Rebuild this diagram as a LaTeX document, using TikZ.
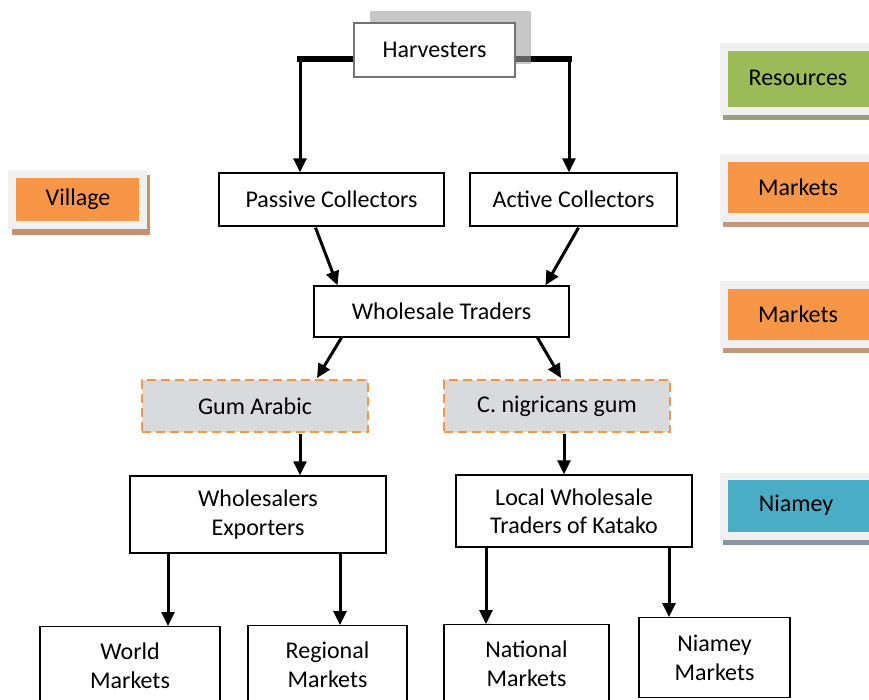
\documentclass[tikz,border=0pt]{standalone}
\usepackage{fontspec}
\setmainfont{Carlito}
\usetikzlibrary{arrows.meta,calc}
\definecolor{resgreen}{HTML}{9BBB59}
\definecolor{mkorange}{HTML}{F79646}
\definecolor{nmblue}{HTML}{4BACC6}
\definecolor{backing}{HTML}{F0F0F0}
\definecolor{resbar}{HTML}{9A9F7D}
\definecolor{mkbar}{HTML}{C4977A}
\definecolor{nmbar}{HTML}{8896A0}
\definecolor{vilshadow}{HTML}{C8906E}
\definecolor{gumfill}{HTML}{D9DADB}
\begin{document}
\begin{tikzpicture}[x=1pt,y=-1pt,
  every node/.style={font=\fontsize{24}{28.5}\selectfont, inner sep=0pt, align=center},
  box/.style={draw=black, line width=1.4pt, fill=white},
  gumbox/.style={draw=mkorange, line width=2pt, dash pattern=on 9pt off 5pt, fill=gumfill},
  arr/.style={line width=3pt, -{Triangle[width=13pt,length=14pt]}},
  thickbar/.style={line width=6pt}
]
\useasboundingbox (0,0) rectangle (869,699);

% ---- legend (right) ----
% Resources
\fill[resbar] (723,115) rectangle (869,120);
\fill[backing] (720,43) rectangle (869,115);
\node[fill=resgreen, minimum width=141, minimum height=56, anchor=north west] (res) at (728,51) {};
\node at (798,78) {Resources};
% Markets 1
\fill[mkbar] (723,222) rectangle (869,227);
\fill[backing] (720,154) rectangle (869,222);
\node[fill=mkorange, minimum width=141, minimum height=51, anchor=north west] (mk1) at (728,162) {};
\node at (798,187) {Markets};
% Markets 2
\fill[mkbar] (723,348) rectangle (869,353);
\fill[backing] (720,281) rectangle (869,348);
\node[fill=mkorange, minimum width=141, minimum height=51, anchor=north west] (mk2) at (728,289) {};
\node at (798,314) {Markets};
% Niamey
\fill[nmbar] (723,540) rectangle (869,545);
\fill[backing] (720,473) rectangle (869,540);
\node[fill=nmblue, minimum width=141, minimum height=52, anchor=north west] (nm) at (728,480) {};
\node at (796,505) {Niamey};
% Village
\fill[vilshadow] (12,175) rectangle (150,235);
\fill[backing] (8,170) rectangle (147,229);
\node[fill=mkorange, minimum width=123, minimum height=43, anchor=north west] (vil) at (16,178) {};
\node at (78,199) {Village};

% ---- Harvesters ----
\coordinate (hl) at (300,59);
\coordinate (hr) at (569,59);
\draw[thickbar] (297,59) -- (354,59);
\draw[thickbar] (515,59) -- (572,59);
\fill[black!37, opacity=0.6] (370,11) rectangle (531,64);
\node[box, draw=black!55, minimum width=161, minimum height=54] (harv) at (434.5,50) {Harvesters};

% ---- main boxes ----
\node[box, minimum width=225, minimum height=53] (pc) at (331.5,199.5) {Passive Collectors};
\node[box, minimum width=207, minimum height=53] (ac) at (573.5,199.5) {Active Collectors};
\node[box, minimum width=255, minimum height=51] (wt) at (441.5,311.5) {Wholesale Traders};
\node[gumbox, minimum width=226, minimum height=52] (ga) at (255,406) {Gum Arabic};
\node[gumbox, minimum width=226, minimum height=52] (cn) at (557,406) {C. nigricans gum};
\node[box, minimum width=256, minimum height=77] (we) at (258,514.5) {Wholesalers\\Exporters};
\node[box, minimum width=236, minimum height=72] (lw) at (574,511) {Local Wholesale\\Traders of Katako};
\node[box, minimum width=180, minimum height=78, anchor=north] (wm) at (130,626) {World\\Markets};
\node[box, minimum width=159, minimum height=78, anchor=north] (rm) at (327.5,625) {Regional\\Markets};
\node[box, minimum width=165, minimum height=78, anchor=north] (nat) at (526.5,624) {National\\Markets};
\node[box, minimum width=151, minimum height=80, anchor=north] (nmk) at (714.5,617) {Niamey\\Markets};

% ---- connectors ----
\draw[arr] (hl) -- (hl |- pc.north);
\draw[arr] (hr) -- (hr |- ac.north);
\draw[arr] ($(pc.south)+(-16,1)$) -- ($(wt.north)+(-104,0)$);
\draw[arr] ($(ac.south)+(5,1)$) -- ($(wt.north)+(104,0)$);
\draw[arr] ($(wt.south)+(-100,0)$) -- ($(ga.north)+(62,-1)$);
\draw[arr] ($(wt.south)+(96,0)$) -- ($(cn.north)+(4,-1)$);
\draw[arr] ($(ga.south)+(45,1)$) -- ($(we.north)+(42,0)$);
\draw[arr] ($(cn.south)+(7,1)$) -- ($(lw.north)+(-10,0)$);
\draw[arr] ($(we.south)+(-90,0)$) -- ($(wm.north)+(38,0)$);
\draw[arr] ($(we.south)+(82,0)$) -- ($(rm.north)+(12.5,0)$);
\draw[arr] ($(lw.south)+(-88,0)$) -- ($(nat.north)+(-40.5,0)$);
\draw[arr] ($(lw.south)+(95,0)$) -- ($(nmk.north)+(-45.5,0)$);
\end{tikzpicture}
\end{document}
